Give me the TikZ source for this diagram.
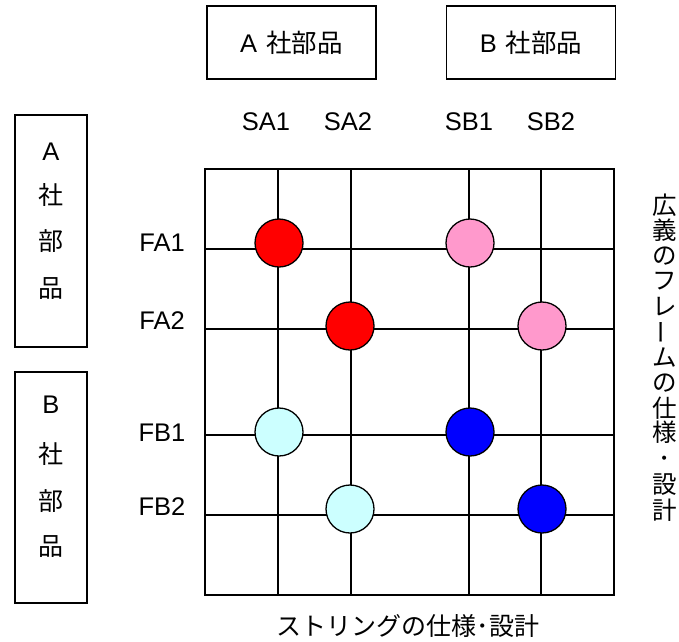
\documentclass[tikz,border=0pt]{standalone}
\usepackage{fontspec}
\setmainfont{Liberation Sans}
\newfontfamily\jp{Noto Sans CJK JP}
\definecolor{cred}{HTML}{FF0000}
\definecolor{cpink}{HTML}{FF99CC}
\definecolor{ccyan}{HTML}{CCFFFF}
\definecolor{cblue}{HTML}{0000FF}
\begin{document}
\begin{tikzpicture}[x=1pt,y=-1pt,
  lbl/.style={font=\fontsize{25.5}{25.5}\selectfont, inner sep=0pt},
  jlbl/.style={font=\fontsize{25}{25}\selectfont\jp, inner sep=0pt},
  vlbl/.style={font=\fontsize{24.5}{24.5}\selectfont\jp, inner sep=0pt},
  topbox/.style={draw, line width=1.3pt, minimum width=169pt, minimum height=73pt, inner sep=0pt, font=\fontsize{25.5}{25.5}\selectfont},
  sidebox/.style={draw, line width=1.3pt, minimum width=72pt, inner sep=0pt},
  gridline/.style={line width=1.5pt},
  dot/.style={circle, draw, line width=1.3pt, minimum size=48pt, inner sep=0pt}]
\useasboundingbox (0,0) rectangle (679,641);
\fill[white] (0,0) rectangle (679,641);

% top boxes
\node[topbox] (boxA) at (291.5,42.5) {A\hspace{9pt}{\jp 社部品}};
\node[topbox] (boxB) at (531,42.5) {B\hspace{9pt}{\jp 社部品}};

% left boxes
\node[sidebox, minimum height=232pt] (lboxA) at (51,231) {};
\node[sidebox, minimum height=231pt] (lboxB) at (51,487.5) {};
\node[lbl]  (la1) at (51,152) {A};
\node[jlbl] (la2) at (51,195) {社};
\node[jlbl] (la3) at (51,241) {部};
\node[jlbl] (la4) at (51,289) {品};
\node[lbl]  (lb1) at (51,405) {B};
\node[jlbl] (lb2) at (51,454) {社};
\node[jlbl] (lb3) at (51,501) {部};
\node[jlbl] (lb4) at (51,547) {品};

% column labels
\node[lbl] (sa1) at (266,122) {SA1};
\node[lbl] (sa2) at (348,122) {SA2};
\node[lbl] (sb1) at (469,122) {SB1};
\node[lbl] (sb2) at (551,122) {SB2};

% row labels
\node[lbl] (fa1) at (162,243) {FA1};
\node[lbl] (fa2) at (162,321) {FA2};
\node[lbl] (fb1) at (162,433) {FB1};
\node[lbl] (fb2) at (162,507) {FB2};

% grid
\draw[gridline] (205,169) rectangle (614,595);
\foreach \gx in {278,351,469,541}
  \draw[gridline] (\gx,169) -- (\gx,595);
\foreach \gy in {249,329,435,515}
  \draw[gridline] (205,\gy) -- (614,\gy);

% circles
\node[dot, fill=cred]  (c11) at (279,243) {};
\node[dot, fill=cred]  (c22) at (350,326) {};
\node[dot, fill=cpink] (c13) at (470,243) {};
\node[dot, fill=cpink] (c24) at (542,326) {};
\node[dot, fill=ccyan] (c31) at (279,432) {};
\node[dot, fill=ccyan] (c42) at (350,509) {};
\node[dot, fill=cblue] (c33) at (470,432) {};
\node[dot, fill=cblue] (c44) at (542,509) {};

% right vertical text
\foreach \ch/\vy [count=\i] in {広/205,義/230.4,の/255.8,フ/281.2,レ/306.6,\rotatebox{90}{ー}/332,ム/357.4,の/382.8,仕/408.2,様/432.5,･/462,設/484.4,計/509.8}
  \node[vlbl] (v\i) at (665,\vy) {\ch};

% bottom text
\node[jlbl] (bottom) at (408,626) {ストリングの仕様･設計};
\end{tikzpicture}
\end{document}
